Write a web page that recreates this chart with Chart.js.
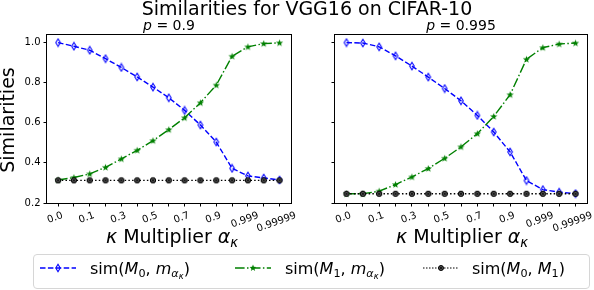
<!DOCTYPE html>
<html lang="en">
<head>
<meta charset="UTF-8">
<title>Similarities for VGG16 on CIFAR-10</title>
<script src="https://cdn.jsdelivr.net/npm/chart.js"></script>
<style>
    body {
        margin: 0;
        width: 594px;
        height: 290px;
        background: #ffffff;
        font-family: "DejaVu Sans", sans-serif;
        color: #000;
        position: relative;
        overflow: hidden;
    }
    canvas { position: absolute; top: 0; }
    .txt { position: absolute; text-align: center; white-space: nowrap; }
    .title { top: -1px; left: 0; width: 614px; font-size: 19px; line-height: 19px; }
    .sub { top: 18px; width: 200px; font-size: 14px; line-height: 14px; }
    .xlab { top: 227px; width: 200px; font-size: 19px; line-height: 19px; }
    .ylab { left: -93px; top: 110px; width: 200px; font-size: 19px; line-height: 20px; transform: rotate(-90deg); }
    .legend {
        position: absolute; left: 33px; top: 254px; width: 555px; height: 33px;
        border: 1px solid #d6d6d6; border-radius: 4px;
    }
    .leg { position: absolute; top: 261px; font-size: 16px; line-height: 16px; white-space: nowrap; }
    .handle { position: absolute; top: 262px; }
    sub { font-size: 0.7em; line-height: 0; vertical-align: -0.3em; }
    sub sub { font-size: 0.75em; vertical-align: -0.25em; }
</style>
</head>
<body>

<canvas id="left" width="296" height="240" style="left:0"></canvas>
<canvas id="right" width="298" height="240" style="left:296px"></canvas>

<div class="txt title">Similarities for VGG16 on CIFAR-10</div>
<div class="txt sub" style="left:69px"><i>p</i> = 0.9</div>
<div class="txt sub" style="left:361px"><i>p</i> = 0.995</div>
<div class="txt xlab" style="left:72px"><i>κ</i> Multiplier <i>α</i><sub><i>κ</i></sub></div>
<div class="txt xlab" style="left:362px"><i>κ</i> Multiplier <i>α</i><sub><i>κ</i></sub></div>
<div class="txt ylab">Similarities</div>

<div class="legend"></div>
<svg class="handle" style="left:40px" width="36" height="12">
    <line x1="0" y1="6" x2="36" y2="6" stroke="blue" stroke-width="1.5" stroke-dasharray="5.5,2.4"/>
    <path d="M18 2.3 L20.2 6 L18 9.7 L15.8 6 Z" fill="none" stroke="blue" stroke-width="1.1"/>
</svg>
<div class="leg" style="left:90px">sim(<i>M</i><sub>0</sub>, <i>m</i><sub><i>α</i><sub><i>κ</i></sub></sub>)</div>
<svg class="handle" style="left:235px" width="36" height="12">
    <line x1="0" y1="6" x2="36" y2="6" stroke="green" stroke-width="1.5" stroke-dasharray="9.6,2.4,1.5,2.4"/>
    <path id="legStar" fill="green"/>
</svg>
<div class="leg" style="left:285px">sim(<i>M</i><sub>1</sub>, <i>m</i><sub><i>α</i><sub><i>κ</i></sub></sub>)</div>
<svg class="handle" style="left:423px" width="36" height="12">
    <line x1="0" y1="6" x2="36" y2="6" stroke="black" stroke-width="1" stroke-dasharray="1.5,1.5"/>
    <circle cx="18" cy="6" r="2.5" fill="#555" stroke="#000" stroke-width="1"/>
    <path d="M16.6 4.6 L19.4 7.4 M19.4 4.6 L16.6 7.4" stroke="#000" stroke-width="0.7"/>
</svg>
<div class="leg" style="left:472px">sim(<i>M</i><sub>0</sub>, <i>M</i><sub>1</sub>)</div>

<script>
// x categories (alpha_kappa), only every second one is labelled
const alphaLabels = ['0.0', '', '0.1', '', '0.3', '', '0.5', '', '0.7', '', '0.9', '', '0.999', '', '0.99999'];
const yTicks = [0.2, 0.4, 0.6, 0.8, 1.0];

// p = 0.9
const simM0_p09   = [1.000, 0.982, 0.962, 0.920, 0.876, 0.829, 0.778, 0.725, 0.662, 0.589, 0.504, 0.373, 0.335, 0.325, 0.315];
const simM1_p09   = [0.315, 0.327, 0.345, 0.378, 0.420, 0.463, 0.511, 0.566, 0.625, 0.700, 0.788, 0.932, 0.979, 0.995, 0.999];
const simM0M1_p09 = [0.313, 0.313, 0.313, 0.313, 0.313, 0.313, 0.313, 0.313, 0.313, 0.313, 0.313, 0.313, 0.313, 0.313, 0.313];

// p = 0.995
const simM0_p995   = [1.000, 0.998, 0.979, 0.934, 0.883, 0.828, 0.771, 0.710, 0.637, 0.554, 0.455, 0.312, 0.267, 0.254, 0.247];
const simM1_p995   = [0.246, 0.246, 0.259, 0.292, 0.330, 0.372, 0.423, 0.480, 0.546, 0.632, 0.740, 0.917, 0.975, 0.993, 0.998];
const simM0M1_p995 = [0.246, 0.246, 0.246, 0.246, 0.246, 0.246, 0.246, 0.246, 0.246, 0.246, 0.246, 0.246, 0.246, 0.246, 0.246];

function starPath(cx, cy, ro, ri) {
    let d = '';
    for (let k = 0; k < 10; k++) {
        const r = k % 2 ? ri : ro;
        const a = -Math.PI / 2 + k * Math.PI / 5;
        d += (k ? 'L' : 'M') + (cx + r * Math.cos(a)).toFixed(2) + ' ' + (cy + r * Math.sin(a)).toFixed(2) + ' ';
    }
    return d + 'Z';
}
document.getElementById('legStar').setAttribute('d', starPath(18, 6, 3.6, 1.5));

// marker images
function diamondMarker() {
    const c = document.createElement('canvas');
    c.width = 8; c.height = 10;
    const g = c.getContext('2d');
    g.strokeStyle = 'blue'; g.lineWidth = 1.1;
    g.beginPath();
    g.moveTo(4, 1.2); g.lineTo(6.3, 5); g.lineTo(4, 8.8); g.lineTo(1.7, 5); g.closePath();
    g.stroke();
    return c;
}
function starMarker() {
    const c = document.createElement('canvas');
    c.width = 9; c.height = 9;
    const g = c.getContext('2d');
    g.fillStyle = 'green';
    g.fill(new Path2D(starPath(4.5, 4.7, 3.8, 1.6)));
    return c;
}
function circleXMarker() {
    const c = document.createElement('canvas');
    c.width = 8; c.height = 8;
    const g = c.getContext('2d');
    g.fillStyle = '#555'; g.strokeStyle = '#000'; g.lineWidth = 1;
    g.beginPath(); g.arc(4, 4, 2.7, 0, Math.PI * 2); g.fill(); g.stroke();
    g.lineWidth = 0.7;
    g.beginPath();
    g.moveTo(2.4, 2.4); g.lineTo(5.6, 5.6); g.moveTo(5.6, 2.4); g.lineTo(2.4, 5.6);
    g.stroke();
    return c;
}
const mDiamond = diamondMarker(), mStar = starMarker(), mCircle = circleXMarker();

const framePlugin = {
    id: 'frame',
    afterDatasetsDraw(chart) {
        const a = chart.chartArea, ctx = chart.ctx;
        ctx.save();
        ctx.strokeStyle = '#000';
        ctx.lineWidth = 1;
        ctx.strokeRect(Math.round(a.left) - 0.5, Math.round(a.top) + 0.5,
                       Math.round(a.right - a.left) + 1, Math.round(a.bottom - a.top));
        ctx.restore();
    }
};

const xTickLabelPlugin = {
    id: 'xTickLabels',
    afterDraw(chart) {
        const sx = chart.scales.x, ctx = chart.ctx;
        const ang = 20 * Math.PI / 180;
        ctx.save();
        ctx.font = '10px "DejaVu Sans"';
        ctx.fillStyle = '#000';
        ctx.textAlign = 'center';
        ctx.textBaseline = 'middle';
        alphaLabels.forEach((lab, i) => {
            if (!lab) return;
            const w = ctx.measureText(lab).width;
            const H = w * Math.sin(ang) + 11 * Math.cos(ang);
            const x = sx.getPixelForValue(i) - 3;
            const y = chart.chartArea.bottom + 7 + H / 2;
            ctx.save();
            ctx.translate(x, y);
            ctx.rotate(-ang);
            ctx.fillText(lab, 0, 0);
            ctx.restore();
        });
        ctx.restore();
    }
};

function pts(arr) { return arr.map((v, i) => ({ x: i, y: v })); }

function makeChart(id, yWidth, rightPad, showYLabels, m0, m1, m01) {
    new Chart(document.getElementById(id), {
        type: 'line',
        data: {
            datasets: [
                { data: pts(m01), borderColor: '#000', borderWidth: 1.4, borderDash: [1.5, 2.2],
                  pointStyle: mCircle, backgroundColor: '#555' },
                { data: pts(m1), borderColor: 'green', borderWidth: 1.4, borderDash: [9.6, 2.4, 1.5, 2.4],
                  pointStyle: mStar, backgroundColor: 'green' },
                { data: pts(m0), borderColor: 'blue', borderWidth: 1.4, borderDash: [5.5, 2.4],
                  pointStyle: mDiamond, backgroundColor: 'blue' }
            ]
        },
        options: {
            responsive: false,
            animation: false,
            events: [],
            layout: { padding: { top: 34, right: rightPad, left: 0, bottom: 0 } },
            plugins: { legend: { display: false }, tooltip: { enabled: false } },
            elements: { line: { tension: 0, fill: false } },
            scales: {
                x: {
                    type: 'linear', min: -0.7, max: 14.7,
                    afterBuildTicks: s => { s.ticks = alphaLabels.map((_, i) => ({ value: i })); },
                    afterFit: s => { s.height = 37; },
                    ticks: { display: false },
                    grid: { drawOnChartArea: false, drawTicks: true, tickLength: 3.5, tickColor: '#000', tickWidth: 1 },
                    border: { display: false }
                },
                y: {
                    type: 'linear', min: 0.2, max: 1.043,
                    afterBuildTicks: s => { s.ticks = yTicks.map(v => ({ value: v })); },
                    afterFit: s => { s.width = yWidth; },
                    ticks: {
                        display: showYLabels, color: '#000', padding: 3,
                        font: { family: 'DejaVu Sans', size: 10 },
                        callback: v => v.toFixed(1)
                    },
                    grid: { drawOnChartArea: false, drawTicks: true, tickLength: 3.5, tickColor: '#000', tickWidth: 1 },
                    border: { display: false }
                }
            }
        },
        plugins: [framePlugin, xTickLabelPlugin]
    });
}

makeChart('left', 47, 5, true, simM0_p09, simM1_p09, simM0M1_p09);
makeChart('right', 39, 7, false, simM0_p995, simM1_p995, simM0M1_p995);
</script>

</body>
</html>
